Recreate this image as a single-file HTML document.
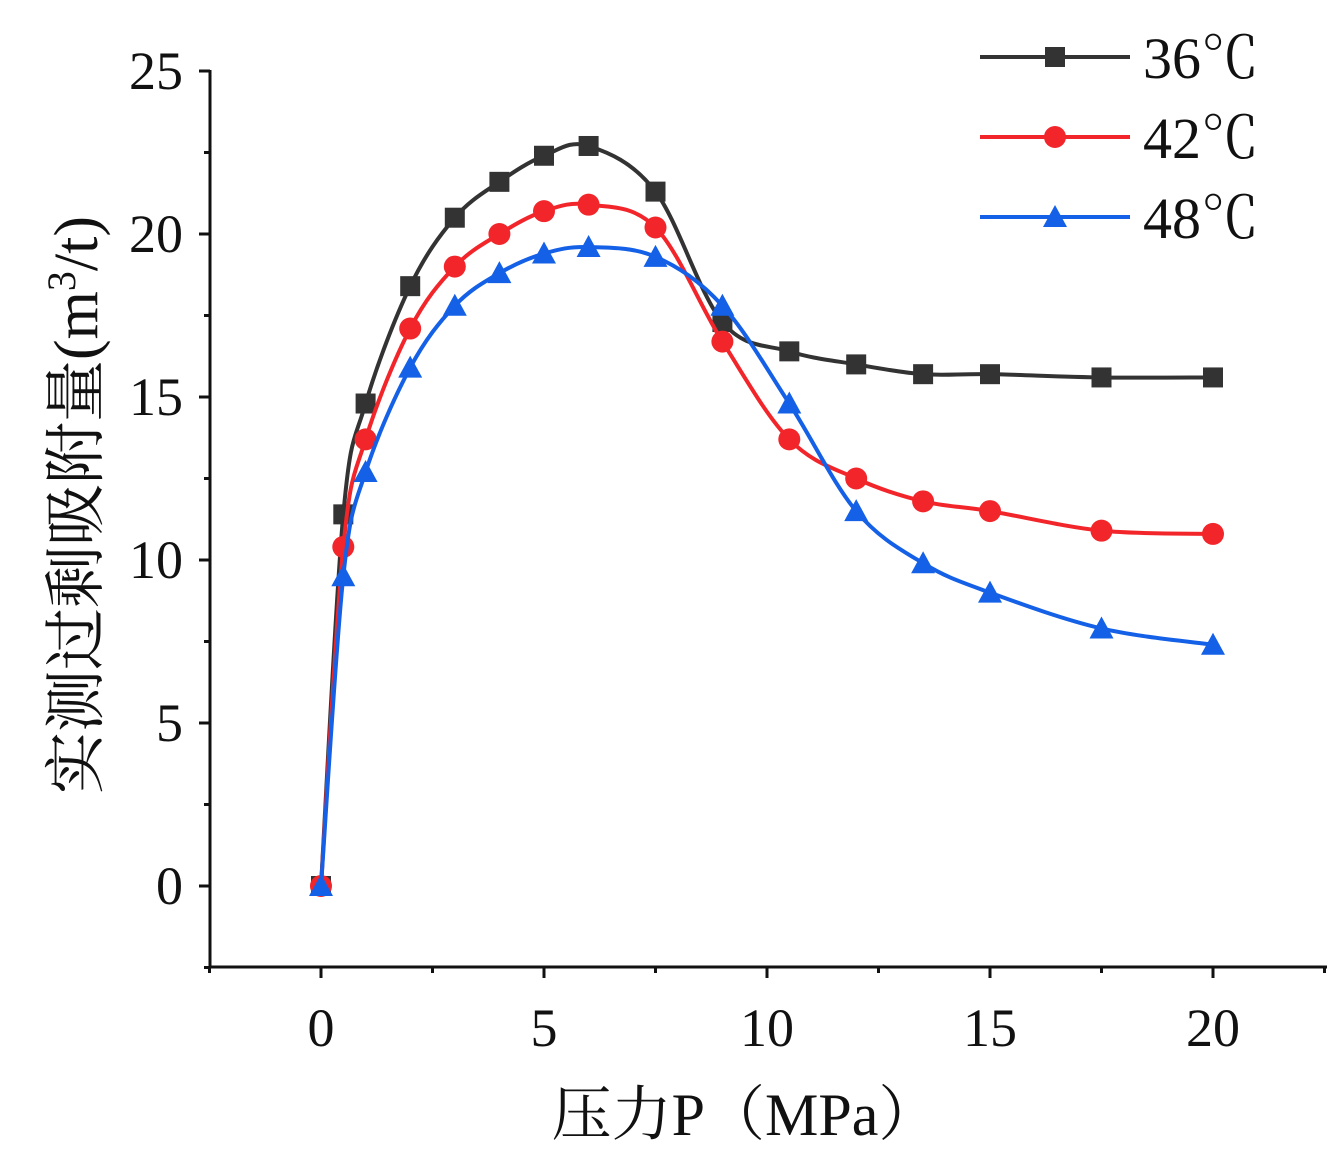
<!DOCTYPE html>
<html><head><meta charset="utf-8"><style>
body{margin:0;background:#fff}
svg text{font-family:"Liberation Serif","Times New Roman","Noto Serif CJK SC",serif;fill:#111}
</style></head><body>
<svg id="chart" width="1339" height="1167" xmlns="http://www.w3.org/2000/svg">
<g id="axes"></g><g id="series"></g><g id="legend"></g>
</svg>
<script>
const pressures=[0,0.5,1,2,3,4,5,6,7.5,9,10.5,12,13.5,15,17.5,20];
const s36=[0,11.4,14.8,18.4,20.5,21.6,22.4,22.7,21.3,17.3,16.4,16.0,15.7,15.7,15.6,15.6];
const s42=[0,10.4,13.7,17.1,19.0,20.0,20.7,20.9,20.2,16.7,13.7,12.5,11.8,11.5,10.9,10.8];
const s48=[0,9.5,12.7,15.9,17.8,18.8,19.4,19.6,19.3,17.8,14.8,11.5,9.9,9.0,7.9,7.4];
const xTicks=[0,5,10,15,20];
const yTicks=[0,5,10,15,20,25];
const seriesNames=['36℃','42℃','48℃'];

const NS='http://www.w3.org/2000/svg';
const X=v=>321+(v)*44.6;
const Y=v=>886-v*32.6;
function el(t,a,p){const e=document.createElementNS(NS,t);for(const k in a)e.setAttribute(k,a[k]);p.appendChild(e);return e;}
const axes=document.getElementById('axes');
let e;
e=el('line',{x1:210,y1:Y(25)-1,x2:210,y2:968,stroke:'#111','stroke-width':3},axes);

e=el('line',{x1:209,y1:967,x2:1327,y2:967,stroke:'#111','stroke-width':3},axes);

for(let v=-2.5;v<=22.5;v+=2.5){const major=xTicks.includes(v);
 e=el('line',{x1:X(v),y1:967,x2:X(v),y2:967+(major?11:6),stroke:'#111','stroke-width':3},axes);
 }
for(let v=-2.5;v<=25;v+=2.5){const major=yTicks.includes(v);
 e=el('line',{x1:210,y1:Y(v),x2:210-(major?11:6),y2:Y(v),stroke:'#111','stroke-width':3},axes);
 }
xTicks.forEach(v=>{e=el('text',{x:X(v),y:1046,'font-size':54,'text-anchor':'middle'},axes);e.textContent=v;
 });
yTicks.forEach(v=>{e=el('text',{x:183,y:Y(v)+18,'font-size':54,'text-anchor':'end'},axes);e.textContent=v;
 });
e=el('text',{x:745,y:1135,'font-size':60,'text-anchor':'middle'},axes);e.textContent='压力P（MPa）';

e=el('text',{x:0,y:0,'font-size':62,'text-anchor':'middle',transform:'translate(97,505) rotate(-90)'},axes);
e.innerHTML='实测过剩吸附量(m<tspan dy="-22" font-size="40">3</tspan><tspan dy="22">/t)</tspan>';


function spline(pts){let d='M'+pts[0][0]+','+pts[0][1];
 for(let i=0;i<pts.length-1;i++){const p0=pts[Math.max(0,i-1)],p1=pts[i],p2=pts[i+1],p3=pts[Math.min(pts.length-1,i+2)];
  const t=0.17;d+=' C'+(p1[0]+(p2[0]-p0[0])*t)+','+(p1[1]+(p2[1]-p0[1])*t)+' '+(p2[0]-(p3[0]-p1[0])*t)+','+(p2[1]-(p3[1]-p1[1])*t)+' '+p2[0]+','+p2[1];}
 return d;}
function marker(g,type,x,y,c,name){let m;
 if(type==='sq')m=el('rect',{x:x-10,y:y-10,width:20,height:20,fill:c},g);
 else if(type==='ci')m=el('circle',{cx:x,cy:y,r:11,fill:c},g);
 else m=el('polygon',{points:`${x},${y-12} ${x+12},${y+10} ${x-12},${y+10}`,fill:c},g);
 }
const cfg=[[s36,'#333333','sq','series-36c'],[s42,'#f2262a','ci','series-42c'],[s48,'#1460e6','tr','series-48c']];
const sg=document.getElementById('series');
cfg.forEach(([vals,c,t,n])=>{const g=el('g',{},sg);
 const pts=pressures.map((p,i)=>[X(p),Y(vals[i])]);
 const p=el('path',{d:spline(pts),fill:'none',stroke:c,'stroke-width':4},g);
 
 pts.forEach(q=>marker(g,t,q[0],q[1],c,'point'));});
const lg=document.getElementById('legend');
cfg.forEach(([v,c,t,n],i)=>{const y=57+i*80;const g=el('g',{},lg);
 
 el('line',{x1:980,y1:y,x2:1130,y2:y,stroke:c,'stroke-width':4},g);
 marker(g,t,1055,y,c,'legend-marker');
 const tx=el('text',{x:1143,y:y+21,'font-size':58},g);tx.textContent=seriesNames[i];
 });
</script>
</body></html>
